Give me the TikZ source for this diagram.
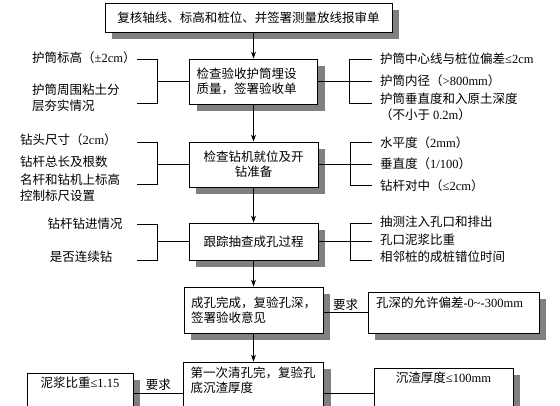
\documentclass[tikz,border=0pt]{standalone}
\usepackage{fontspec}
\setmainfont{Noto Sans CJK SC}
\newfontfamily\latin{Liberation Serif}
\usepackage{tikz}
\usetikzlibrary{arrows.meta,shadows}

\begin{document}
\begin{tikzpicture}[
    x=1pt, y=-1pt,
    box/.style={rectangle, draw=black, line width=0.8pt, fill=white, align=center, font=\fontsize{12.5}{15}\selectfont, general shadow={fill=black!50, shadow xshift=7pt, shadow yshift=-7pt}},
    topbox/.style={box, text height=10pt},
    item/.style={anchor=west, align=left, inner sep=3pt, font=\fontsize{12.5}{16}\selectfont},
    tag/.style={inner sep=2pt, font=\fontsize{12.5}{15}\selectfont},
    arrow/.style={-{Stealth[length=7pt,width=5pt]}, line width=0.8pt},
    link/.style={line width=0.8pt}
]
\fill[white, use as bounding box] (0,0) rectangle (560,406);
\clip (0,0) rectangle (560,406);

% main column
\node[box, minimum width=287, minimum height=29] (survey) at (248.5,17.5) {复核轴线、标高和桩位、并签署测量放线报审单};
\node[box, minimum height=45, text width=114, inner xsep=7pt, align=left] (casing) at (253.5,81.5) {检查验收护筒埋设\\质量，签署验收单};
\node[box, minimum height=45, text width=115, inner xsep=7pt] (rig) at (253.5,164.5) {检查钻机就位及开\\钻准备};
\node[box, minimum width=129, minimum height=37] (track) at (253.5,241.5) {跟踪抽查成孔过程};
\node[box, minimum height=46, text width=125, inner xsep=7pt, align=left] (depth) at (253.5,310) {成孔完成，复验孔深，\\签署验收意见};
\node[topbox, text width=126, inner xsep=7pt, inner ysep=5.5pt, text depth=41pt, align=left] (clean) at (253.5,393) {第一次清孔完，复验孔\\底沉渣厚度};

% requirement boxes
\node[topbox, text width=155, inner xsep=8pt, inner ysep=5.5pt, text depth=20pt, align=left] (tol) at (453.5,312.5) {孔深的允许偏差{\latin -0\textasciitilde-300mm}};
\node[topbox, text width=90, inner xsep=8pt, inner ysep=4.5pt, text depth=21pt] (mud) at (80,393) {泥浆比重{\latin ≤1.15}};
\node[topbox, text width=123, inner xsep=8pt, inner ysep=4.5pt, text depth=31pt] (sed) at (443.5,393) {沉渣厚度{\latin ≤100mm}};

% side items
\node[item] (c1) at (29,58) {护筒标高（{\latin ±2cm}）};
\node[item] (c2) at (29,98) {护筒周围粘土分\\层夯实情况};
\node[item] (c3) at (377,59) {护筒中心线与桩位偏差{\latin ≤2cm}};
\node[item] (c4) at (377,81) {护筒内径（{\latin >800mm}）};
\node[item] (c5) at (377,106.5) {护筒垂直度和入原土深度\\（不小于 {\latin 0.2m}）};

\node[item] (g1) at (17,140) {钻头尺寸（{\latin 2cm}）};
\node[item] (g2) at (17,162) {钻杆总长及根数};
\node[item] (g3) at (17,188) {名杆和钻机上标高\\控制标尺设置};
\node[item] (g4) at (377,143) {水平度（{\latin 2mm}）};
\node[item] (g5) at (377,164) {垂直度（{\latin 1/100}）};
\node[item] (g6) at (377,186) {钻杆对中（{\latin ≤2cm}）};

\node[item, anchor=center] (t1) at (85,224) {钻杆钻进情况};
\node[item, anchor=center] (t2) at (81,257) {是否连续钻};
\node[item] (t3) at (377,222) {抽测注入孔口和排出};
\node[item] (t4) at (377,240) {孔口泥浆比重};
\node[item] (t5) at (377,257) {相邻桩的成桩错位时间};

% bracket ends
\coordinate (cl1) at (137,59);
\coordinate (cl2) at (137,103);
\coordinate (cr1) at (372,59);
\coordinate (cr2) at (372,81.5);
\coordinate (cr3) at (372,103);
\coordinate (gl1) at (137,142);
\coordinate (gl2) at (137,184);
\coordinate (gr1) at (372,142);
\coordinate (gr2) at (372,164.5);
\coordinate (gr3) at (372,185);
\coordinate (tl1) at (137,224);
\coordinate (tl2) at (137,260);
\coordinate (tr1) at (372,223);
\coordinate (tr2) at (372,241.5);
\coordinate (tr3) at (372,260);

% brackets
\draw[link] (cl1) -- ++(20,0) |- (casing.west);
\draw[link] (cl2) -- ++(20,0) |- (casing.west);
\draw[link] (casing.east) -- (cr2);
\draw[link] (casing.east) ++(31.5,0) |- (cr1);
\draw[link] (casing.east) ++(31.5,0) |- (cr3);

\draw[link] (gl1) -- ++(20,0) |- (rig.west);
\draw[link] (gl2) -- ++(20,0) |- (rig.west);
\draw[link] (rig.east) -- (gr2);
\draw[link] (rig.east) ++(31.5,0) |- (gr1);
\draw[link] (rig.east) ++(31.5,0) |- (gr3);

\draw[link] (tl1) -- ++(20,0) |- (track.west);
\draw[link] (tl2) -- ++(20,0) |- (track.west);
\draw[link] (track.east) -- (tr2);
\draw[link] (track.east) ++(31.5,0) |- (tr1);
\draw[link] (track.east) ++(31.5,0) |- (tr3);

% flow
\draw[arrow] (survey.south -| casing.north) -- (casing.north);
\draw[arrow] (casing.south) -- (rig.north);
\draw[arrow] (rig.south) -- (track.north);
\draw[arrow] (track.south) -- (depth.north);
\draw[arrow] (depth.south) -- (clean.north);

\draw[link] (depth.east |- tol.west) -- node[tag, above] (req1) {要求} (tol.west);
\draw[link] (mud.east) -- node[tag, above] (req2) {要求} (clean.west);
\draw[link] (clean.east) -- (sed.west);
\end{tikzpicture}
\end{document}
